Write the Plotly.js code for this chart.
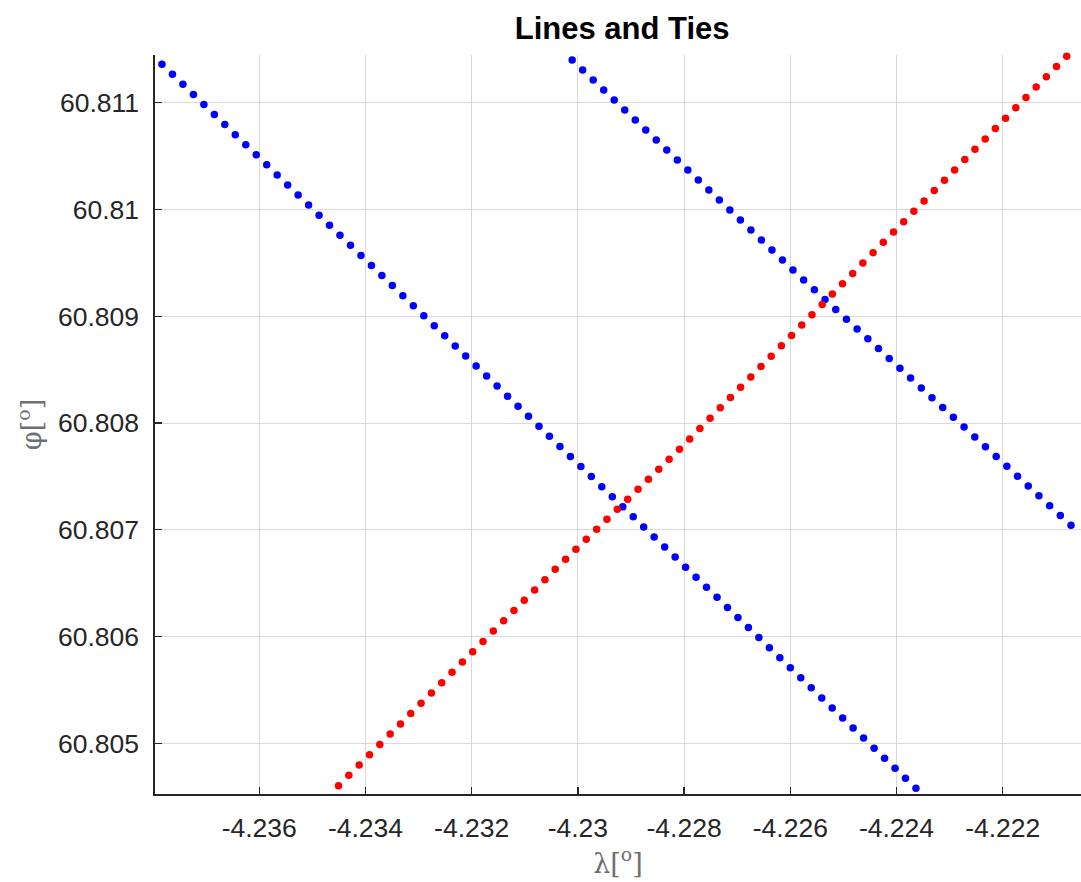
<!DOCTYPE html>
<html>
<head>
<meta charset="utf-8">
<script src="https://cdn.plot.ly/plotly-3.0.1.min.js"></script>
<style>
  html, body { margin: 0; padding: 0; background: #ffffff; overflow: hidden; }
  #chart { width: 1081px; height: 882px; }
</style>
</head>
<body>
<div id="chart"></div>
<script>
// Survey track positions (longitude / latitude, degrees)

// Line A (blue, NW -> SE)
const lineA_lon = [
  -4.237832, -4.237635, -4.237438, -4.237240, -4.237043, -4.236846, -4.236649, -4.236452, -4.236254, -4.236057,
  -4.235860, -4.235663, -4.235466, -4.235268, -4.235071, -4.234874, -4.234677, -4.234480, -4.234282, -4.234085,
  -4.233888, -4.233691, -4.233494, -4.233296, -4.233099, -4.232902, -4.232705, -4.232508, -4.232310, -4.232113,
  -4.231916, -4.231719, -4.231522, -4.231324, -4.231127, -4.230930, -4.230733, -4.230536, -4.230338, -4.230141,
  -4.229944, -4.229747, -4.229550, -4.229352, -4.229155, -4.228958, -4.228761, -4.228564, -4.228366, -4.228169,
  -4.227972, -4.227775, -4.227578, -4.227380, -4.227183, -4.226986, -4.226789, -4.226592, -4.226394, -4.226197,
  -4.226000, -4.225803, -4.225606, -4.225408, -4.225211, -4.225014, -4.224817, -4.224620, -4.224422, -4.224225,
  -4.224028, -4.223831, -4.223634
];
const lineA_lat = [
  60.811360, 60.811266, 60.811172, 60.811077, 60.810983, 60.810889, 60.810795, 60.810701, 60.810606, 60.810512,
  60.810418, 60.810324, 60.810230, 60.810135, 60.810041, 60.809947, 60.809853, 60.809759, 60.809664, 60.809570,
  60.809476, 60.809382, 60.809288, 60.809193, 60.809099, 60.809005, 60.808911, 60.808817, 60.808722, 60.808628,
  60.808534, 60.808440, 60.808346, 60.808251, 60.808157, 60.808063, 60.807969, 60.807875, 60.807780, 60.807686,
  60.807592, 60.807498, 60.807404, 60.807309, 60.807215, 60.807121, 60.807027, 60.806933, 60.806838, 60.806744,
  60.806650, 60.806556, 60.806462, 60.806367, 60.806273, 60.806179, 60.806085, 60.805991, 60.805896, 60.805802,
  60.805708, 60.805614, 60.805520, 60.805425, 60.805331, 60.805237, 60.805143, 60.805049, 60.804954, 60.804860,
  60.804766, 60.804672, 60.804578
];

// Line B (blue, NW -> SE)
const lineB_lon = [
  -4.230108, -4.229910, -4.229712, -4.229514, -4.229316, -4.229118, -4.228920, -4.228722, -4.228524, -4.228326,
  -4.228128, -4.227930, -4.227732, -4.227534, -4.227336, -4.227138, -4.226940, -4.226742, -4.226544, -4.226346,
  -4.226148, -4.225950, -4.225749, -4.225547, -4.225346, -4.225144, -4.224943, -4.224742, -4.224540, -4.224339,
  -4.224137, -4.223936, -4.223735, -4.223533, -4.223332, -4.223130, -4.222929, -4.222728, -4.222526, -4.222325,
  -4.222123, -4.221922, -4.221721, -4.221519, -4.221318, -4.221116, -4.220915, -4.220714, -4.220512
];
const lineB_lat = [
  60.811400, 60.811306, 60.811213, 60.811119, 60.811025, 60.810931, 60.810838, 60.810744, 60.810650, 60.810557,
  60.810463, 60.810369, 60.810276, 60.810182, 60.810088, 60.809994, 60.809901, 60.809807, 60.809713, 60.809620,
  60.809526, 60.809432, 60.809340, 60.809248, 60.809156, 60.809064, 60.808972, 60.808881, 60.808789, 60.808697,
  60.808605, 60.808513, 60.808421, 60.808329, 60.808237, 60.808145, 60.808053, 60.807962, 60.807870, 60.807778,
  60.807686, 60.807594, 60.807502, 60.807410, 60.807318, 60.807226, 60.807134, 60.807043, 60.806951
];

// Tie line (red, SW -> NE)
const tie_lon = [
  -4.234507, -4.234313, -4.234118, -4.233924, -4.233730, -4.233535, -4.233341, -4.233147, -4.232953, -4.232758,
  -4.232564, -4.232370, -4.232175, -4.231981, -4.231787, -4.231592, -4.231398, -4.231204, -4.231010, -4.230815,
  -4.230621, -4.230427, -4.230232, -4.230037, -4.229842, -4.229647, -4.229452, -4.229257, -4.229062, -4.228867,
  -4.228672, -4.228477, -4.228282, -4.228087, -4.227895, -4.227703, -4.227511, -4.227319, -4.227127, -4.226936,
  -4.226744, -4.226552, -4.226360, -4.226168, -4.225976, -4.225784, -4.225592, -4.225400, -4.225208, -4.225017,
  -4.224825, -4.224633, -4.224441, -4.224249, -4.224057, -4.223865, -4.223673, -4.223481, -4.223289, -4.223098,
  -4.222906, -4.222714, -4.222522, -4.222330, -4.222138, -4.221946, -4.221754, -4.221562, -4.221370, -4.221179,
  -4.220987, -4.220795
];
const tie_lat = [
  60.804603, 60.804700, 60.804796, 60.804893, 60.804989, 60.805086, 60.805182, 60.805279, 60.805375, 60.805472,
  60.805568, 60.805665, 60.805761, 60.805858, 60.805954, 60.806051, 60.806147, 60.806244, 60.806340, 60.806437,
  60.806533, 60.806630, 60.806724, 60.806817, 60.806911, 60.807005, 60.807099, 60.807192, 60.807286, 60.807380,
  60.807473, 60.807567, 60.807661, 60.807754, 60.807851, 60.807948, 60.808045, 60.808142, 60.808239, 60.808335,
  60.808432, 60.808529, 60.808626, 60.808723, 60.808820, 60.808917, 60.809014, 60.809111, 60.809208, 60.809304,
  60.809401, 60.809498, 60.809595, 60.809692, 60.809789, 60.809886, 60.809983, 60.810080, 60.810177, 60.810273,
  60.810370, 60.810467, 60.810564, 60.810661, 60.810758, 60.810855, 60.810952, 60.811049, 60.811146, 60.811242,
  60.811339, 60.811436
];

// Axis ticks
const xTickVals = [-4.236, -4.234, -4.232, -4.230, -4.228, -4.226, -4.224, -4.222];
const xTickText = ['-4.236', '-4.234', '-4.232', '-4.23', '-4.228', '-4.226', '-4.224', '-4.222'];
const yTickVals = [60.805, 60.806, 60.807, 60.808, 60.809, 60.810, 60.811];
const yTickText = ['60.805', '60.806', '60.807', '60.808', '60.809', '60.81', '60.811'];

const xRange = [-4.2379634, -4.2205258];
const yRange = [60.8045252, 60.8114468];

const dotStyle = (color) => ({ color: color, size: 7.5, line: { width: 0 } });

const traces = [
  { type: 'scatter', mode: 'markers', x: lineA_lon, y: lineA_lat, marker: dotStyle('#0000ff'), cliponaxis: false, hoverinfo: 'skip' },
  { type: 'scatter', mode: 'markers', x: lineB_lon, y: lineB_lat, marker: dotStyle('#0000ff'), cliponaxis: true, hoverinfo: 'skip' },
  { type: 'scatter', mode: 'markers', x: tie_lon, y: tie_lat, marker: dotStyle('#ff0000'), cliponaxis: false, hoverinfo: 'skip' }
];

const axisCommon = {
  showline: true,
  linecolor: '#262626',
  linewidth: 1.6,
  ticks: 'inside',
  ticklen: 7,
  tickwidth: 1.3,
  tickcolor: '#262626',
  showgrid: true,
  gridcolor: '#d9d9d9',
  gridwidth: 1,
  zeroline: false,
  mirror: false,
  tickfont: { family: 'Liberation Sans, Arial, sans-serif', size: 26.5, color: '#262626' },
  tickmode: 'array'
};

const layout = {
  width: 1081,
  height: 882,
  paper_bgcolor: '#ffffff',
  plot_bgcolor: '#ffffff',
  showlegend: false,
  margin: { l: 155, r: 0, t: 55, b: 88 },
  title: {
    text: '<b>Lines and Ties</b>',
    font: { family: 'Liberation Sans, Arial, sans-serif', size: 31, color: '#000000' },
    x: 0.5755, xanchor: 'center',
    y: 0.968, yanchor: 'middle'
  },
  xaxis: Object.assign({}, axisCommon, {
    range: xRange,
    tickvals: xTickVals,
    ticktext: xTickText,
    ticklabelstandoff: 10,
    title: { text: 'λ[<sup>o</sup>]', font: { family: 'DejaVu Serif, Liberation Serif, serif', size: 27, color: '#707070' }, standoff: 6 }
  }),
  yaxis: Object.assign({}, axisCommon, {
    range: yRange,
    tickvals: yTickVals,
    ticktext: yTickText,
    ticklabelstandoff: 9,
    title: { text: 'φ[<sup>o</sup>]', font: { family: 'DejaVu Serif, Liberation Serif, serif', size: 27, color: '#707070' }, standoff: 8 }
  })
};

Plotly.newPlot('chart', traces, layout, { displayModeBar: false, staticPlot: true });
</script>
</body>
</html>
